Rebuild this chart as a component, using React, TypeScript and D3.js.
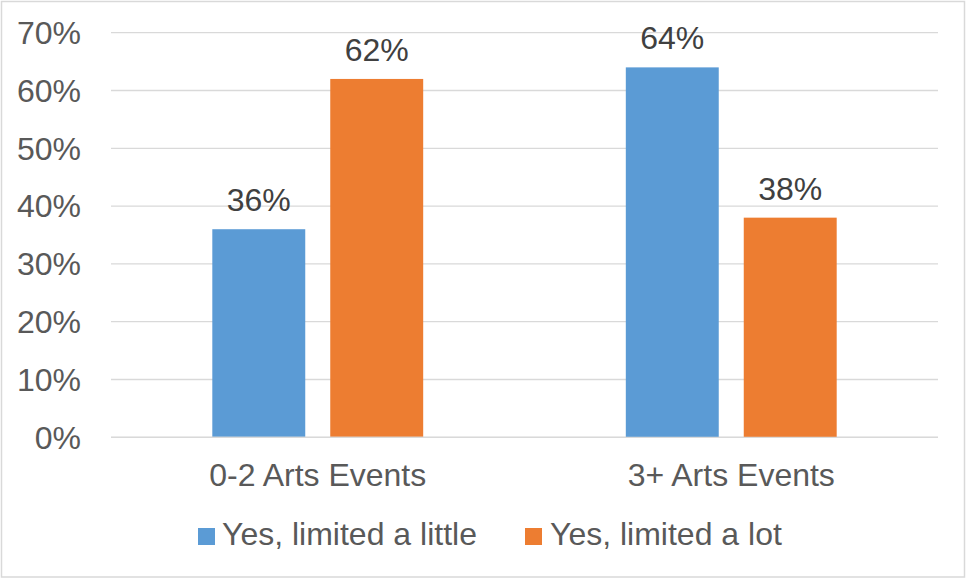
import React from "react";
import * as d3 from "d3";

const categories = ["0-2 Arts Events", "3+ Arts Events"];
const seriesNames = ["Yes, limited a little", "Yes, limited a lot"];
const littleValues = [36, 64];
const lotValues = [62, 38];
const yTicks = [0, 10, 20, 30, 40, 50, 60, 70];
const colors = ["#5B9BD5", "#ED7D31"];

const W = 967;
const H = 580;
const FONT = "'Liberation Sans', Arial, sans-serif";
const FS = 32;

export default function App() {
  const left = 111;
  const right = 938;
  const top = 32.7;
  const bottom = 437.3;

  const y = d3.scaleLinear().domain([0, 70]).range([bottom, top]);
  const x0 = d3
    .scaleBand<string>()
    .domain(categories)
    .range([left, right])
    .paddingInner(0.49)
    .paddingOuter(0.245);
  const x1 = d3
    .scaleBand<string>()
    .domain(seriesNames)
    .range([0, x0.bandwidth()])
    .paddingInner(0.212)
    .paddingOuter(0);

  const seriesValues = [littleValues, lotValues];

  const legendItems = [
    { sx: 198, tx: 222 },
    { sx: 525, tx: 550 },
  ];

  return (
    <div style={{ position: "absolute", left: 0, top: 0 }}>
      <svg width={W} height={H} style={{ display: "block", fontFamily: FONT }}>
        <rect x={0} y={0} width={W} height={H} fill="#ffffff" />
        <rect x={1.5} y={1.5} width={963} height={575.5} fill="none" stroke="#d9d9d9" strokeWidth={1.5} />
        {yTicks.map((t) => (
          <g key={t}>
            <line x1={left} x2={right} y1={y(t)} y2={y(t)} stroke="#d9d9d9" strokeWidth={1.3} />
            <text x={81} y={y(t)} dy="0.35em" textAnchor="end" fontSize={FS} fill="#595959">
              {t}%
            </text>
          </g>
        ))}
        {categories.map((c, ci) => (
          <g key={c}>
            {seriesNames.map((s, si) => {
              const v = seriesValues[si][ci];
              const bx = (x0(c) ?? 0) + (x1(s) ?? 0);
              const bw = x1.bandwidth();
              return (
                <g key={s}>
                  <rect x={bx} y={y(v)} width={bw} height={y(0) - y(v)} fill={colors[si]} />
                  <text x={bx + bw / 2} y={y(v) - 18} textAnchor="middle" fontSize={FS} fill="#404040">
                    {v}%
                  </text>
                </g>
              );
            })}
            <line x1={left} x2={right} y1={y(0)} y2={y(0)} stroke="#d9d9d9" strokeWidth={1.3} />
            <text
              x={(x0(c) ?? 0) + x0.bandwidth() / 2}
              y={y(0) + 49}
              textAnchor="middle"
              fontSize={FS}
              fill="#595959"
            >
              {c}
            </text>
          </g>
        ))}
        {seriesNames.map((s, i) => (
          <g key={s}>
            <rect x={legendItems[i].sx} y={528} width={17} height={17} fill={colors[i]} />
            <text x={legendItems[i].tx} y={545} fontSize={FS} fill="#595959">
              {s}
            </text>
          </g>
        ))}
      </svg>
    </div>
  );
}
